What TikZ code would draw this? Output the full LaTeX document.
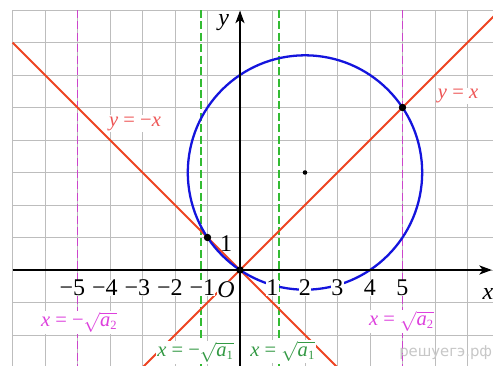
\documentclass[tikz,border=0pt]{standalone}
\usepackage{fontspec}
\setmainfont{Liberation Serif}
\newfontfamily\wmfont{DejaVu Sans}
\usetikzlibrary{arrows.meta}
\definecolor{gridc}{HTML}{BDBDBD}
\definecolor{redl}{HTML}{EE4422}
\definecolor{redt}{HTML}{EE5555}
\definecolor{magl}{HTML}{CC44CC}
\definecolor{magt}{HTML}{DD40DD}
\definecolor{grnl}{HTML}{33BB33}
\definecolor{grnt}{HTML}{339944}
\definecolor{bluel}{HTML}{1414DD}
\newcommand{\mysq}[1]{$\sqrt{\mbox{\textit{a}}_{\mbox{\fontsize{11}{11}\selectfont #1}}}$}
\tikzset{
  gridline/.style={gridc, line width=0.8pt},
  dashline/.style={line width=1.4pt, dash pattern=on 7pt off 3pt},
  axisline/.style={line width=1.3pt, -{Stealth[length=11pt,width=8pt,inset=3pt]}},
  ticklab/.style={font=\fontsize{21}{23}\selectfont, fill=white, inner sep=0.3pt},
  axlab/.style={font=\fontsize{21}{23}\selectfont\itshape, inner sep=0pt},
  annlab/.style={font=\fontsize{18}{20}\selectfont, fill=white, inner sep=1pt, anchor=base},
  dotp/.style={circle, fill=black, inner sep=0pt, minimum size=6.5pt},
  smalldot/.style={circle, fill=black, inner sep=0pt, minimum size=4pt},
  wmark/.style={font=\wmfont\fontsize{13}{15}\selectfont, text=black!22}
}
\begin{document}
\begin{tikzpicture}
\useasboundingbox (-7.385,-2.954) rectangle (7.785,8.308);
\clip (-7.385,-2.954) rectangle (7.785,8.308);
\fill[white] (-7.385,-2.954) rectangle (7.785,8.308);
% grid
\draw[gridline] (-7,-3) grid (8,8);
% dashed lines
\draw[dashline, magl] (-5,8) -- (-5,-3);
\draw[dashline, magl] (5,8) -- (5,-3);
\draw[dashline, grnl] (-1.2,8) -- (-1.2,-3);
\draw[dashline, grnl] (1.2,8) -- (1.2,-3);
% red lines
\draw[redl, line width=1.6pt] (-7,7) -- (3.2,-3.2);
\draw[redl, line width=1.6pt] (-3.2,-3.2) -- (8,8);
% circle
\draw[bluel, line width=2pt] (2,3) circle ({sqrt(13)});
% axes
\coordinate (xs) at (-7,0);
\coordinate (xe) at (7.75,0);
\coordinate (ys) at (0,-3.2);
\coordinate (ye) at (0,7.98);
\draw[axisline] (xs) -- (xe);
\draw[axisline] (ys) -- (ye);
% tick labels
\node[ticklab] (tm5) at (-5.16,-0.55) {−5};
\node[ticklab] (tm4) at (-4.16,-0.55) {−4};
\node[ticklab] (tm3) at (-3.16,-0.55) {−3};
\node[ticklab] (tm2) at (-2.16,-0.55) {−2};
\node[ticklab] (tm1) at (-1.16,-0.55) {−1};
\node[ticklab, font=\fontsize{21}{23}\selectfont\itshape] (tO) at (-0.43,-0.6) {O};
\node[ticklab] (t1) at (1,-0.55) {1};
\node[ticklab] (t2) at (2,-0.55) {2};
\node[ticklab] (t3) at (3,-0.55) {3};
\node[ticklab] (t4) at (4,-0.55) {4};
\node[ticklab] (t5) at (5,-0.55) {5};
\node[ticklab, fill=none] (ty1) at (-0.43,0.8) {1};
\node[axlab, anchor=base] (xl) at (7.63,-0.92) {x};
\node[axlab, anchor=base] (yl) at (-0.5,7.52) {y};
% annotation labels
\node[annlab, text=redt] (lyx) at (6.71,5.28) {\textit{y} = \textit{x}};
\node[annlab, text=redt] (lymx) at (-3.23,4.43) {\textit{y} = −\textit{x}};
\node[annlab, text=magt] (lma2) at (-4.95,-1.74) {\textit{x} = −\mysq{2}};
\node[annlab, text=magt] (lpa2) at (4.97,-1.72) {\textit{x} = \mysq{2}};
\node[annlab, text=grnt] (lma1) at (-1.37,-2.67) {\textit{x} = −\mysq{1}};
\node[annlab, text=grnt] (lpa1) at (1.31,-2.65) {\textit{x} = \mysq{1}};
% points
\node[dotp] (p1) at (-1,1) {};
\node[dotp] (p0) at (0,0) {};
\node[dotp] (p5) at (5,5) {};
\node[smalldot] (pc) at (2,3) {};
% watermark
\node[wmark] (wm) at (6.33,-2.55) {решуегэ.рф};
\end{tikzpicture}
\end{document}
